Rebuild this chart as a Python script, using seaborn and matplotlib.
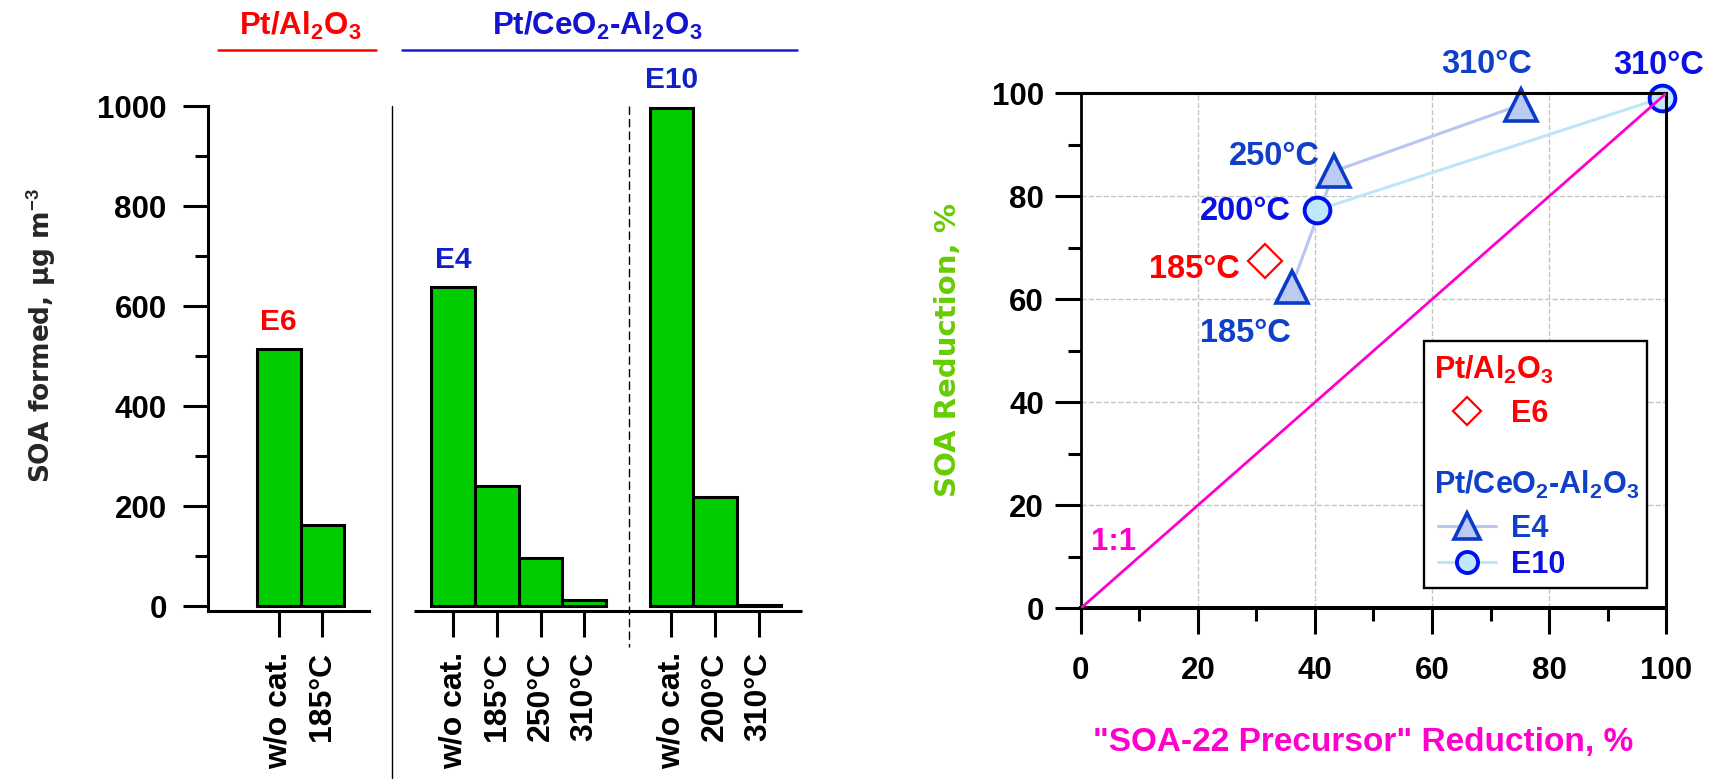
import pandas as pd
import seaborn as sns
import matplotlib.pyplot as plt
from matplotlib.patches import Rectangle
from matplotlib.ticker import MultipleLocator

# left panel: SOA formed for each experiment / catalyst condition
experiments = ['E6', 'E6', 'E4', 'E4', 'E4', 'E4', 'E10', 'E10', 'E10']
conditions = ['w/o cat.', '185°C', 'w/o cat.', '185°C', '250°C', '310°C',
              'w/o cat.', '200°C', '310°C']
soa_formed = [514, 163, 638, 241, 97, 13, 997, 219, 3]

# right panel: reductions (%) at each catalyst temperature
e6_temps = ['185°C']
e6_precursor = [31.5]
e6_soa = [67.5]
e4_temps = ['185°C', '250°C', '310°C']
e4_precursor = [36.0, 43.3, 75.2]
e4_soa = [62.4, 84.9, 97.8]
e10_temps = ['200°C', '310°C']
e10_precursor = [40.3, 99.2]
e10_soa = [77.3, 99.1]

RED = '#ff0000'
BLUE_E4 = '#1040c8'
BLUE_E10 = '#0a10e6'
MAGENTA = '#ff00cc'
GREEN = '#00cc00'

sns.set_theme(style='ticks')
plt.rcParams['font.family'] = ['Liberation Sans', 'DejaVu Sans']
plt.rcParams.update({
    'font.weight': 'bold',
    'axes.labelweight': 'bold',
    'mathtext.fontset': 'custom',
    'mathtext.rm': 'Liberation Sans:bold',
    'mathtext.it': 'Liberation Sans:bold',
    'mathtext.bf': 'Liberation Sans:bold',
    'mathtext.default': 'bf',
    'axes.edgecolor': 'black',
    'xtick.color': 'black',
    'ytick.color': 'black',
})

fig = plt.figure(figsize=(17.13, 7.79), dpi=100)
ax1 = fig.add_axes([0.1216, 0.2160, 0.3468, 0.6479])
ax2 = fig.add_axes([0.6309, 0.2191, 0.3418, 0.6611])

# ---------------- left: bar chart ----------------
df = pd.DataFrame({'experiment': experiments, 'condition': conditions, 'soa': soa_formed})
df['key'] = df['experiment'] + ' ' + df['condition']
keys = list(df['key'])
# empty slots separate the catalyst groups
order = ['gap0'] + keys[:2] + ['gap1', 'gap2'] + keys[2:6] + ['gap3'] + keys[6:]

sns.barplot(data=df, x='key', y='soa', order=order, color=GREEN, saturation=1,
            edgecolor='black', linewidth=2.2, width=1.0, ax=ax1)

pos = [order.index(k) for k in keys]
ax1.set_xticks(pos)
ax1.set_xticklabels(conditions, rotation=90, fontsize=23)
ax1.set_xlim(-0.615, 13.0)
ax1.set_ylim(-9.4, 1000)
ax1.set_yticks(range(0, 1001, 200))
ax1.yaxis.set_minor_locator(MultipleLocator(100))
ax1.tick_params(axis='y', which='major', length=18, width=2.2, labelsize=22.5, pad=12)
ax1.tick_params(axis='y', which='minor', length=9.4, width=2.2)
ax1.tick_params(axis='x', length=18.7, width=2.2, pad=11)
sns.despine(ax=ax1)
ax1.spines['left'].set_linewidth(2.2)
ax1.spines['bottom'].set_linewidth(2.2)
ax1.spines['bottom'].set_bounds(-0.615, 3.07)
ax1.plot([4.11, 13.0], [-9.4, -9.4], color='black', lw=2.2, clip_on=False,
         solid_capstyle='butt')
ax1.set_xlabel('')
ax1.set_ylabel('SOA formed, µg m$^{-3}$', fontsize=19, fontfamily='DejaVu Sans',
               fontweight='bold')
ax1.yaxis.set_label_coords(-0.2513, 0.546)

# group separators
ax1.plot([3.6, 3.6], [1000, -360], color='black', lw=1, clip_on=False)
ax1.plot([9.03, 9.03], [1000, -81], color='black', lw=1, ls=(0, (6, 3)), clip_on=False)

# catalyst headers
ax1.text(1.49, 1142, 'Pt/Al$_2$O$_3$', color=RED, ha='center', va='baseline',
         fontsize=22.5, clip_on=False)
ax1.plot([-0.39, 3.23], [1112, 1112], color=RED, lw=1.8, clip_on=False)
ax1.text(8.3, 1142, 'Pt/CeO$_2$-Al$_2$O$_3$', color='#1414d0', ha='center',
         va='baseline', fontsize=22.5, clip_on=False)
ax1.plot([3.82, 12.88], [1112, 1112], color='#1a1ad0', lw=1.8, clip_on=False)

# experiment labels above the first bar of each experiment
exp_colors = {'E6': RED, 'E4': '#1020c8', 'E10': '#1020c8'}
for exp, col in exp_colors.items():
    i = experiments.index(exp)
    ax1.annotate(exp, (pos[i], soa_formed[i]), xytext=(0, 14), textcoords='offset points',
                 ha='center', va='baseline', color=col, fontsize=21.5, annotation_clip=False)

# ---------------- right: reduction scatter ----------------
sns.lineplot(x=e4_precursor, y=e4_soa, sort=False, errorbar=None, color='#b9c6f3',
             lw=2.2, marker='^', markersize=22.5, markerfacecolor='#bccbf4',
             markeredgecolor='#0a3cc8', markeredgewidth=2.6, clip_on=False, ax=ax2)
sns.lineplot(x=e10_precursor, y=e10_soa, sort=False, errorbar=None, color='#bde6fb',
             lw=2.2, marker='o', markersize=18.5, markerfacecolor='#c0e8fc',
             markeredgecolor='#0010f0', markeredgewidth=2.8, clip_on=False, ax=ax2)
sns.lineplot(x=e6_precursor, y=e6_soa, errorbar=None, linestyle='none', marker='D',
             markersize=17.5, markerfacecolor='none', markeredgecolor=RED,
             markeredgewidth=1.6, clip_on=False, ax=ax2)
h_e4, h_e10, h_e6 = ax2.get_lines()[:3]
ax2.axline((0, 0), slope=1, color=MAGENTA, lw=2, zorder=3)
ax2.text(1.8, 12.9, '1:1', color=MAGENTA, ha='left', va='center', fontsize=22.5)

# temperature labels (offsets in points from each marker)
label_sets = [
    (e4_temps, e4_precursor, e4_soa, BLUE_E4,
     [(-33.5, -33.3, 'center'), (-10.7, 10.7, 'right'), (-24.7, 28.7, 'center')]),
    (e10_temps, e10_precursor, e10_soa, BLUE_E10,
     [(-18.5, -0.9, 'right'), (-2, 23.7, 'center')]),
    (e6_temps, e6_precursor, e6_soa, RED, [(-18.2, -6.1, 'right')]),
]
for temps, xs, ys, col, offs in label_sets:
    for t, x, y, (dx, dy, ha) in zip(temps, xs, ys, offs):
        ax2.annotate(t, (x, y), xytext=(dx, dy), textcoords='offset points',
                     ha=ha, va='center', color=col, fontsize=23.5, annotation_clip=False)

ax2.set_xlim(0, 100)
ax2.set_ylim(0, 100)
for axis in (ax2.xaxis, ax2.yaxis):
    axis.set_major_locator(MultipleLocator(20))
    axis.set_minor_locator(MultipleLocator(10))
ax2.tick_params(which='major', length=18.5, width=2.2, labelsize=22.5)
ax2.tick_params(which='minor', length=9.7, width=2.2)
ax2.tick_params(axis='x', which='both', pad=16)
ax2.tick_params(axis='y', which='both', pad=8)
ax2.grid(True, which='major', ls='--', color='#c4c4c4', lw=1)
for side in ('top', 'right'):
    ax2.spines[side].set_linestyle((0, (1.2, 0.6)))
    ax2.spines[side].set_linewidth(2.2)
ax2.spines['left'].set_linewidth(2)
ax2.spines['bottom'].set_linewidth(2.9)

ax2.set_ylabel('SOA Reduction, %', color='#66cc00', fontsize=21,
               fontfamily='DejaVu Sans', fontweight='bold')
ax2.yaxis.set_label_coords(-0.2027, 0.502)
ax2.set_xlabel('"SOA-22 Precursor" Reduction, %', color=MAGENTA, fontsize=24)
ax2.xaxis.set_label_coords(0.482, -0.2305)

# legend: frame, two catalyst headers, and the marker entries
ax2.add_patch(Rectangle((0.5863, 0.0388), 0.3804, 0.4808, transform=ax2.transAxes,
                        facecolor='white', edgecolor='black', lw=1.7, zorder=4))
ax2.text(0.604, 0.4452, 'Pt/Al$_2$O$_3$', transform=ax2.transAxes, color=RED,
         ha='left', va='baseline', fontsize=22, zorder=5)
ax2.text(0.604, 0.2222, 'Pt/CeO$_2$-Al$_2$O$_3$', transform=ax2.transAxes, color=BLUE_E4,
         ha='left', va='baseline', fontsize=22, zorder=5)
leg_kw = dict(loc='center left', borderaxespad=0, borderpad=0, fontsize=22,
              handlelength=1.9, handletextpad=0.5, labelspacing=0.2, markerscale=0.82,
              frameon=False)
leg1 = ax2.legend([h_e6], ['E6'], bbox_to_anchor=(0.6097, 0.378), labelcolor=[RED],
                  **leg_kw)
leg1.set_zorder(5)
ax2.add_artist(leg1)
leg2 = ax2.legend([h_e4, h_e10], ['E4', 'E10'], bbox_to_anchor=(0.6097, 0.119),
                  labelcolor=[BLUE_E4, BLUE_E10], **leg_kw)
leg2.set_zorder(5)

fig.savefig('out.png', dpi=100)
